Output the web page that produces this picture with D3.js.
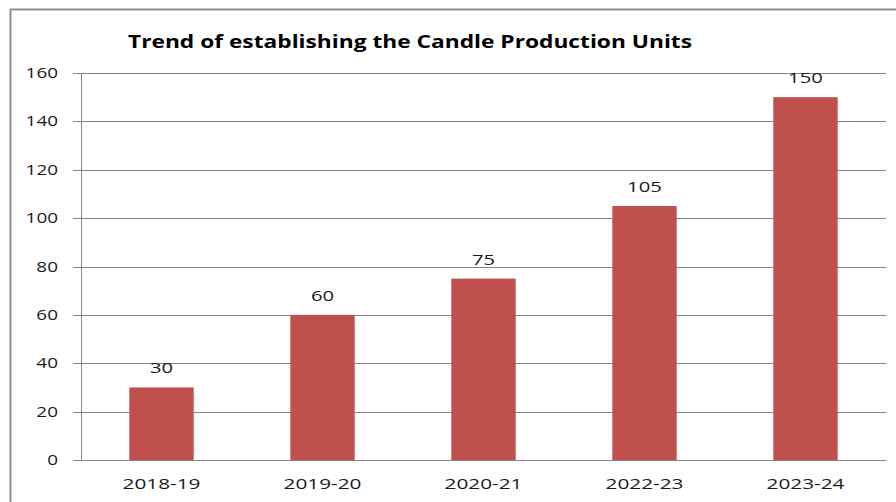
<!DOCTYPE html>
<html><head><meta charset="utf-8">
<script src="https://cdn.jsdelivr.net/npm/d3@7"></script>
<style>body{margin:0;background:#fff;} svg{display:block;}</style>
</head><body>
<svg id="c" width="896" height="502"></svg>
<script>
const categories = ["2018-19","2019-20","2020-21","2022-23","2023-24"];
const values = [30, 60, 75, 105, 150];
const yTicks = [0,20,40,60,80,100,120,140,160];
const title = "Trend of establishing the Candle Production Units";

(function(){
const svg = d3.select("#c");
const font = "'Open Sans', sans-serif";
// stretch text horizontally (reference text is widened)
function stretch(sel, k){
  sel.each(function(){
    const w = this.getComputedTextLength();
    d3.select(this).attr("textLength", w*k).attr("lengthAdjust","spacingAndGlyphs");
  });
}
// outer border
svg.append("path").attr("d","M10.5,502 V9.5 H896").attr("fill","none").attr("stroke","#8c8c8c").attr("stroke-width",2);

const pLeft = 81, pRight = 886, pTop = 73, pBottom = 460;
const x = d3.scaleBand().domain(categories).range([pLeft,pRight]).paddingInner(0.6).paddingOuter(0.3);
const y = d3.scaleLinear().domain([0,160]).range([pBottom,pTop]);

// gridlines
svg.append("g").selectAll("line").data(yTicks).join("line")
  .attr("x1",73).attr("x2",pRight).attr("y1",d=>Math.round(y(d))+0.5).attr("y2",d=>Math.round(y(d))+0.5)
  .attr("stroke","#868686").attr("stroke-width",1);
// y axis line
svg.append("line").attr("x1",pLeft+0.5).attr("x2",pLeft+0.5).attr("y1",pTop).attr("y2",pBottom).attr("stroke","#868686");

// y labels
const yl = svg.append("g").selectAll("text").data(yTicks).join("text")
  .attr("x",58).attr("y",d=>y(d)+5).attr("text-anchor","end")
  .attr("font-family",font).attr("font-size",14).attr("fill","#1a1a1a").text(d=>d);
stretch(yl, 1.35);

// bars
svg.append("g").selectAll("rect").data(values).join("rect")
  .attr("x",(d,i)=>x(categories[i])).attr("width",x.bandwidth())
  .attr("y",d=>y(d)).attr("height",d=>pBottom-y(d)).attr("fill","#C0504D");

// data labels
const dl = svg.append("g").selectAll("text").data(values).join("text")
  .attr("x",(d,i)=>x(categories[i])+x.bandwidth()/2).attr("y",d=>y(d)-14)
  .attr("text-anchor","middle").attr("font-family",font).attr("font-size",15).attr("fill","#1a1a1a").text(d=>d);
stretch(dl, 1.35);

// x labels
const xl = svg.append("g").selectAll("text").data(categories).join("text")
  .attr("x",d=>x(d)+x.bandwidth()/2).attr("y",489)
  .attr("text-anchor","middle").attr("font-family",font).attr("font-size",15).attr("fill","#1a1a1a").text(d=>d);
xl.attr("textLength",78).attr("lengthAdjust","spacingAndGlyphs");

// title
svg.append("text").attr("x",410).attr("y",48).attr("text-anchor","middle")
  .attr("font-family",font).attr("font-weight","bold").attr("font-size",18).attr("fill","#000")
  .attr("textLength",564).attr("lengthAdjust","spacingAndGlyphs").text(title);
})();
</script>
</body></html>
